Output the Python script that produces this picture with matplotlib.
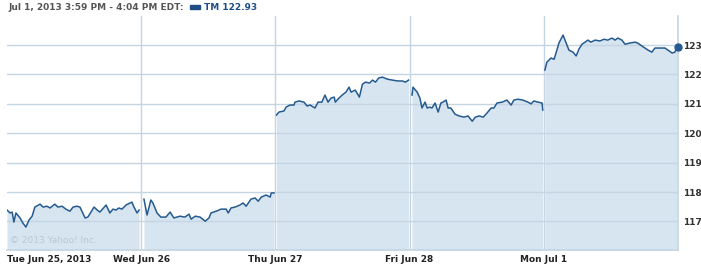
import numpy as np
import matplotlib
matplotlib.use("Agg")
from matplotlib import pyplot as plt

# TM intraday, 5 sessions; minutes after 9:30 open and price
day_labels = ["Tue Jun 25, 2013", "Wed Jun 26", "Thu Jun 27", "Fri Jun 28", "Mon Jul 1"]

tue_min = [0, 9, 15, 20, 26, 38, 46, 55, 64, 73, 81, 96, 105, 116, 125, 139, 148, 160, 171, 183,
           192, 203, 212, 227, 235, 244, 253, 262, 270, 288, 299, 308, 317, 325, 334, 346, 363, 369, 378, 384]
tue_px = [117.39, 117.29, 117.32, 116.98, 117.29, 117.12, 116.95, 116.81, 117.05, 117.18, 117.49, 117.59,
          117.49, 117.52, 117.46, 117.59, 117.49, 117.52, 117.42, 117.35, 117.49, 117.52, 117.49, 117.12,
          117.15, 117.32, 117.49, 117.39, 117.32, 117.56, 117.29, 117.42, 117.39, 117.46, 117.42, 117.56,
          117.66, 117.49, 117.29, 117.39]

wed_min = [8, 17, 28, 34, 46, 57, 72, 84, 95, 113, 127, 139, 145, 157, 171, 186, 197, 203, 218, 232,
           247, 253, 261, 273, 287, 296, 305, 319, 331, 340, 349, 363, 375, 378, 386]
wed_px = [117.76, 117.22, 117.73, 117.63, 117.29, 117.15, 117.15, 117.32, 117.12, 117.18, 117.15, 117.25,
          117.08, 117.18, 117.15, 117.01, 117.12, 117.29, 117.35, 117.42, 117.42, 117.29, 117.46, 117.49,
          117.56, 117.63, 117.52, 117.76, 117.80, 117.69, 117.83, 117.90, 117.83, 117.97, 117.97]

thu_min = [2, 10, 25, 31, 42, 54, 57, 69, 83, 92, 101, 115, 124, 135, 144, 153, 162, 171, 174, 185,
           194, 205, 214, 220, 232, 244, 253, 262, 274, 282, 291, 300, 311, 326, 340, 355, 369, 378, 388]
thu_px = [120.62, 120.72, 120.76, 120.89, 120.96, 120.96, 121.06, 121.10, 121.06, 120.93, 120.96, 120.86,
          121.06, 121.06, 121.30, 121.06, 121.20, 121.23, 121.06, 121.20, 121.30, 121.40, 121.57, 121.40,
          121.47, 121.23, 121.67, 121.74, 121.71, 121.81, 121.74, 121.88, 121.91, 121.84, 121.81, 121.78,
          121.78, 121.74, 121.81]

fri_min = [7, 10, 22, 30, 36, 45, 51, 59, 65, 74, 83, 91, 97, 106, 112, 120, 132, 144, 158, 170,
           182, 191, 202, 214, 225, 237, 245, 254, 269, 283, 295, 303, 315, 329, 344, 353, 361, 373, 385, 388]
fri_px = [121.30, 121.57, 121.40, 121.20, 120.86, 121.06, 120.86, 120.89, 120.86, 121.03, 120.72, 121.03,
          121.06, 121.13, 120.86, 120.86, 120.65, 120.59, 120.55, 120.59, 120.41, 120.55, 120.59, 120.55,
          120.69, 120.86, 120.86, 121.03, 121.06, 121.13, 120.96, 121.13, 121.16, 121.13, 121.06, 121.00,
          121.10, 121.06, 121.03, 120.79]

mon_min = [3, 9, 21, 30, 38, 44, 56, 65, 73, 85, 94, 102, 111, 120, 128, 137, 149, 163, 175, 186,
           198, 207, 215, 227, 236, 250, 265, 273, 285, 294, 303, 314, 323, 338, 352, 361, 373, 381, 387]
mon_px = [122.15, 122.42, 122.56, 122.52, 122.83, 123.07, 123.34, 123.07, 122.83, 122.76, 122.63, 122.86,
          123.03, 123.10, 123.17, 123.10, 123.17, 123.14, 123.20, 123.17, 123.24, 123.17, 123.24, 123.17,
          123.03, 123.07, 123.10, 123.07, 122.97, 122.90, 122.83, 122.76, 122.90, 122.90, 122.90, 122.83,
          122.73, 122.76, 122.93]

sessions = [(tue_min, tue_px), (wed_min, wed_px), (thu_min, thu_px), (fri_min, fri_px), (mon_min, mon_px)]
yticks = [117, 118, 119, 120, 121, 122, 123]
last_price = 122.93

line_col = "#255a8f"
fill_col = "#d6e5f0"
grid_col = "#c5d5e1"

fig = plt.figure(figsize=(7.01, 2.66), dpi=100)
ax = fig.add_axes([7 / 701, 16 / 266, 671 / 701, 234 / 266])
ax.set_xlim(0, 5)
ax.set_ylim(116.03, 123.99)
ymin = 116.03

for d in range(1, 5):
    ax.axvline(d, color=grid_col, lw=1, zorder=1)

for d, (mins, px) in enumerate(sessions):
    t = d + np.array(mins) / 390.0
    t = np.clip(t, d + 0.008, d + 0.992) if d > 0 else np.clip(t, 0, d + 0.992)
    ax.fill_between(t, px, ymin, color=fill_col, lw=0, zorder=2)
    ax.plot(t, px, color=line_col, lw=1.1, zorder=4)

for v in yticks:
    ax.axhline(v, color=grid_col, lw=1, zorder=3)

ax.plot([5 - 0.002], [last_price], "o", color=line_col, ms=5, zorder=5, clip_on=False)

for s in ["top", "left"]:
    ax.spines[s].set_visible(False)
for s in ["right", "bottom"]:
    ax.spines[s].set_color(grid_col)
    ax.spines[s].set_linewidth(1.2)

ax.yaxis.tick_right()
ax.set_yticks(yticks)
ax.set_yticklabels([str(v) for v in yticks], fontsize=6.5, fontweight="bold", color="#333333")
ax.set_xticks(range(5))
ax.set_xticklabels(day_labels, fontsize=6.5, fontweight="bold", color="#222222")
ax.get_xticklabels()[0].set_horizontalalignment("left")
ax.tick_params(length=0)
ax.tick_params(axis="y", pad=3.5)
ax.tick_params(axis="x", pad=3.5)

ax.text(0.005, 0.03, "\u00a9 2013 Yahoo! Inc.", transform=ax.transAxes, fontsize=6.5,
        color="#b9c7d3", zorder=6)

fig.text(8 / 701, 1 - 7 / 266, "Jul 1, 2013 3:59 PM - 4:04 PM EDT:", fontsize=6.5,
         fontweight="bold", color="#555555", va="center")
fig.patches.append(plt.Rectangle((190 / 701, 1 - 9 / 266), 10 / 701, 4 / 266,
                                 transform=fig.transFigure, color="#1f4e85"))
fig.text(204 / 701, 1 - 7 / 266, "TM 122.93", fontsize=6.5, fontweight="bold",
         color="#1f4e85", va="center")

fig.savefig("out.png", dpi=100)
